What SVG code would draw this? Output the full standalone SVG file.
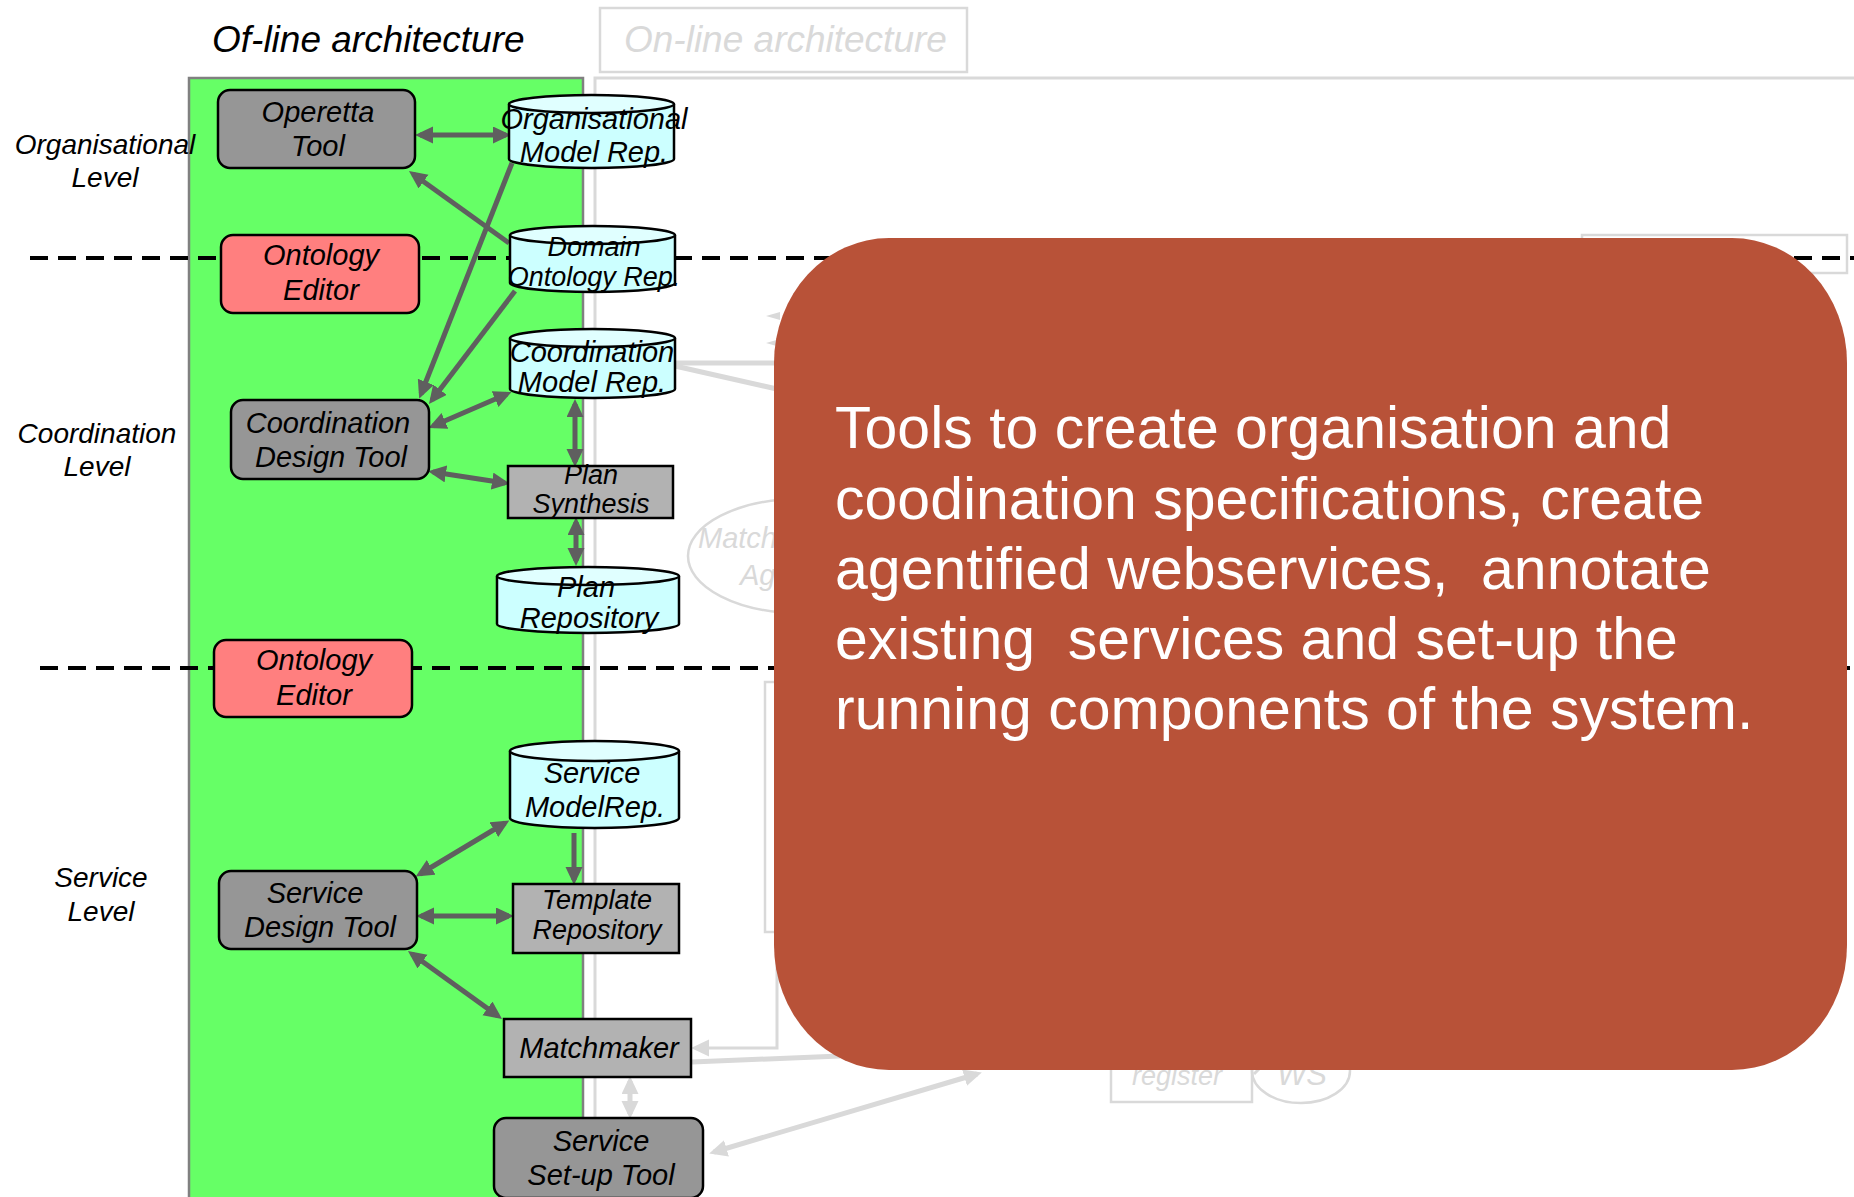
<svg xmlns="http://www.w3.org/2000/svg" width="1854" height="1197" viewBox="0 0 1854 1197">
<style>
text{font-family:"Liberation Sans",Arial,sans-serif;}
.it{font-style:italic;}
.lbl{font-size:28px;font-style:italic;fill:#000;text-anchor:middle;}
.nt{font-size:29px;font-style:italic;fill:#000;text-anchor:middle;}
.ns{font-size:27px;}
.faint{fill:#D9D9D9;font-style:italic;}
.tool{fill:#969696;stroke:#000;stroke-width:2.5;}
.onto{fill:#FF7F7F;stroke:#000;stroke-width:2.5;}
.proc{fill:#B2B2B2;stroke:#000;stroke-width:2.5;}
.cylb{fill:#CCFFFF;stroke:#000;stroke-width:2.5;}
.cylt{fill:#E0FFFF;stroke:#000;stroke-width:2.5;}
.dk{stroke:#5F5F5F;stroke-width:5;fill:none;}
.lt{stroke:#D9D9D9;stroke-width:5;fill:none;}
.ltthin{stroke:#D9D9D9;stroke-width:3;fill:none;}
.dash{stroke:#000;stroke-width:4;stroke-dasharray:18 10;fill:none;}
.ov{fill:#FFFFFF;font-size:59px;white-space:pre;}
</style>
<defs>
<marker id="ahd" markerUnits="userSpaceOnUse" markerWidth="20" markerHeight="18" refX="13" refY="8.5" orient="auto-start-reverse" viewBox="0 0 20 18">
<path d="M0,0 L18,8.5 L0,17 z" fill="#5F5F5F"/>
</marker>
<marker id="ahl" markerUnits="userSpaceOnUse" markerWidth="20" markerHeight="18" refX="13" refY="8.5" orient="auto-start-reverse" viewBox="0 0 20 18">
<path d="M0,0 L18,8.5 L0,17 z" fill="#D9D9D9"/>
</marker>
</defs>
<rect width="1854" height="1197" fill="#FFFFFF"/>

<g id="background">
<rect x="189" y="78" width="394" height="1125" fill="#66FF66" stroke="#808080" stroke-width="2.5"/>
<path d="M595,1197 V78 H1860" class="ltthin"/>
<text x="212" y="52" class="it" font-size="37" fill="#000">Of-line architecture</text>
<g id="online-title">
<rect x="600" y="8" width="367" height="64" fill="none" stroke="#D9D9D9" stroke-width="2.5"/>
<text x="624" y="52" class="faint" font-size="37">On-line architecture</text>
</g>
<text class="lbl"><tspan x="105" y="154">Organisational</tspan><tspan x="105" y="187">Level</tspan></text>
<text class="lbl"><tspan x="97" y="443">Coordination</tspan><tspan x="97" y="476">Level</tspan></text>
<text class="lbl"><tspan x="101" y="887">Service</tspan><tspan x="101" y="921">Level</tspan></text>
<rect x="1582" y="235" width="265" height="38" fill="none" stroke="#D9D9D9" stroke-width="2.5"/>
<line x1="30" y1="258" x2="1854" y2="258" class="dash"/>
<line x1="40" y1="668" x2="1854" y2="668" class="dash"/>
</g>

<g id="faint-elements">
<ellipse cx="800" cy="556" rx="112" ry="57" fill="none" stroke="#D9D9D9" stroke-width="2.5"/>
<text x="698" y="548" class="faint" font-size="29">Match</text>
<text x="740" y="585" class="faint" font-size="29">Ag</text>
<rect x="765" y="682" width="60" height="250" fill="none" stroke="#D9D9D9" stroke-width="2.5"/>
<rect x="1111" y="1046" width="141" height="56" fill="none" stroke="#D9D9D9" stroke-width="2.5"/>
<text x="1132" y="1085" class="faint" font-size="27">register</text>
<ellipse cx="1301" cy="1071" rx="49" ry="32" fill="none" stroke="#D9D9D9" stroke-width="2.5"/>
<text x="1277" y="1085" class="faint" font-size="31">WS</text>
</g>

<g id="connectors">
<line x1="675" y1="363" x2="790" y2="363" class="lt"/>
<line x1="675" y1="366" x2="790" y2="392" class="lt"/>
<polygon points="766,316 780,312 780,320" fill="#D9D9D9"/>
<polygon points="766,343 780,339 780,347" fill="#D9D9D9"/>
<path d="M777,600 V1048 H696" class="ltthin" marker-end="url(#ahl)"/>
<line x1="692" y1="1062" x2="840" y2="1056" class="lt" stroke-width="6"/>
<line x1="630" y1="1081" x2="630" y2="1114" class="lt" marker-start="url(#ahl)" marker-end="url(#ahl)"/>
<line x1="714" y1="1152" x2="977" y2="1074" class="lt" marker-start="url(#ahl)" marker-end="url(#ahl)"/>
<path d="M1262,1066 L1254,1074" class="ltthin"/>

<line x1="420" y1="135" x2="506" y2="135" class="dk" marker-start="url(#ahd)" marker-end="url(#ahd)"/>
<line x1="509" y1="243" x2="413" y2="174" class="dk" marker-end="url(#ahd)"/>
<line x1="512" y1="163" x2="421" y2="394" class="dk" marker-end="url(#ahd)"/>
<line x1="515" y1="291" x2="432" y2="400" class="dk" marker-end="url(#ahd)"/>
<line x1="433" y1="426" x2="507" y2="394" class="dk" marker-start="url(#ahd)" marker-end="url(#ahd)"/>
<line x1="433" y1="472" x2="505" y2="483" class="dk" marker-start="url(#ahd)" marker-end="url(#ahd)"/>
<line x1="575" y1="404" x2="575" y2="462" class="dk" marker-start="url(#ahd)" marker-end="url(#ahd)"/>
<line x1="576" y1="522" x2="576" y2="561" class="dk" marker-start="url(#ahd)" marker-end="url(#ahd)"/>
<line x1="420" y1="874" x2="505" y2="823" class="dk" marker-start="url(#ahd)" marker-end="url(#ahd)"/>
<line x1="574" y1="833" x2="574" y2="880" class="dk" marker-end="url(#ahd)"/>
<line x1="421" y1="916" x2="509" y2="916" class="dk" marker-start="url(#ahd)" marker-end="url(#ahd)"/>
<line x1="412" y1="954" x2="498" y2="1016" class="dk" marker-start="url(#ahd)" marker-end="url(#ahd)"/>
</g>

<g id="operetta-tool">
<rect x="218" y="90" width="197" height="78" rx="12" class="tool"/>
<text class="nt"><tspan x="318" y="122">Operetta</tspan><tspan x="318" y="156">Tool</tspan></text>
</g>
<g id="org-model-rep">
<path d="M509,104 V159 A82.5,9 0 0 0 674,159 V104" class="cylb"/>
<ellipse cx="591.5" cy="104" rx="82.5" ry="9" class="cylt"/>
<text class="nt"><tspan x="594" y="129">Organisational</tspan><tspan x="594" y="162">Model Rep.</tspan></text>
</g>
<g id="ontology-editor-1">
<rect x="221" y="235" width="198" height="78" rx="12" class="onto"/>
<text class="nt"><tspan x="321" y="265">Ontology</tspan><tspan x="321" y="300">Editor</tspan></text>
</g>
<g id="domain-ontology-rep">
<path d="M510,235 V283 A82.5,9 0 0 0 675,283 V235" class="cylb"/>
<ellipse cx="592.5" cy="235" rx="82.5" ry="9" class="cylt"/>
<text class="nt ns"><tspan x="594" y="256">Domain</tspan><tspan x="594" y="286">Ontology Rep.</tspan></text>
</g>
<g id="coordination-model-rep">
<path d="M510,338 V389 A82.5,9 0 0 0 675,389 V338" class="cylb"/>
<ellipse cx="592.5" cy="338" rx="82.5" ry="9" class="cylt"/>
<text class="nt"><tspan x="592" y="362">Coordination</tspan><tspan x="592" y="392">Model Rep.</tspan></text>
</g>
<g id="coordination-design-tool">
<rect x="231" y="400" width="198" height="79" rx="12" class="tool"/>
<text class="nt"><tspan x="328" y="433">Coordination</tspan><tspan x="331" y="467">Design Tool</tspan></text>
</g>
<g id="plan-synthesis">
<rect x="508" y="466" width="165" height="52" class="proc"/>
<text class="nt ns"><tspan x="591" y="484">Plan</tspan><tspan x="591" y="513">Synthesis</tspan></text>
</g>
<g id="plan-repository">
<path d="M497,576 V624 A91,9 0 0 0 679,624 V576" class="cylb"/>
<ellipse cx="588" cy="576" rx="91" ry="9" class="cylt"/>
<text class="nt"><tspan x="586" y="597">Plan</tspan><tspan x="589" y="628">Repository</tspan></text>
</g>
<g id="ontology-editor-2">
<rect x="214" y="640" width="198" height="77" rx="12" class="onto"/>
<text class="nt"><tspan x="314" y="670">Ontology</tspan><tspan x="314" y="705">Editor</tspan></text>
</g>
<g id="service-model-rep">
<path d="M510,751 V818 A84.5,10 0 0 0 679,818 V751" class="cylb"/>
<ellipse cx="594.5" cy="751" rx="84.5" ry="10" class="cylt"/>
<text class="nt"><tspan x="592" y="783">Service</tspan><tspan x="595" y="817">ModelRep.</tspan></text>
</g>
<g id="service-design-tool">
<rect x="219" y="871" width="198" height="78" rx="12" class="tool"/>
<text class="nt"><tspan x="315" y="903">Service</tspan><tspan x="320" y="937">Design Tool</tspan></text>
</g>
<g id="template-repository">
<rect x="513" y="884" width="166" height="69" class="proc"/>
<text class="nt ns"><tspan x="597" y="909">Template</tspan><tspan x="597" y="939">Repository</tspan></text>
</g>
<g id="matchmaker">
<rect x="504" y="1019" width="187" height="58" class="proc"/>
<text class="nt" x="599" y="1058">Matchmaker</text>
</g>
<g id="service-setup-tool">
<rect x="494" y="1118" width="209" height="80" rx="12" class="tool"/>
<text class="nt"><tspan x="601" y="1151">Service</tspan><tspan x="601" y="1185">Set-up Tool</tspan></text>
</g>

<g id="overlay">
<rect x="774" y="238" width="1073" height="832" rx="115" ry="125" fill="#B85238"/>
<text class="ov"><tspan x="835" y="448">Tools to create organisation and</tspan><tspan x="835" y="519">coodination specifications, create</tspan><tspan x="835" y="589">agentified webservices,  annotate</tspan><tspan x="835" y="659">existing  services and set-up the</tspan><tspan x="835" y="729">running components of the system.</tspan></text>
</g>
</svg>
